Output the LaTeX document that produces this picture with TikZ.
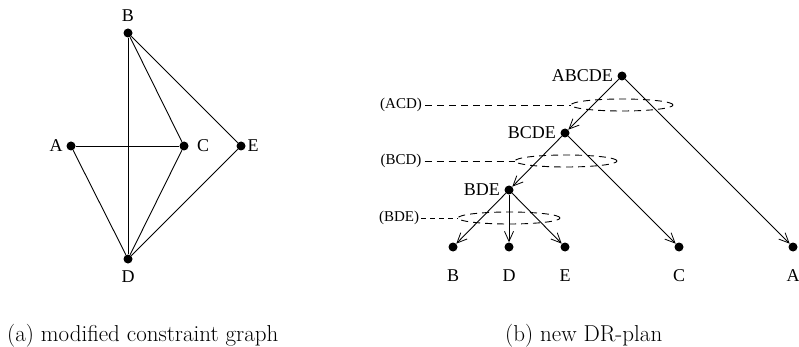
\documentclass[tikz,border=0pt]{standalone}
\usepackage{fontspec}
\newfontfamily\tms{Liberation Serif}
\usetikzlibrary{arrows.meta,shapes.geometric}
\begin{document}
\begin{tikzpicture}[x=1pt,y=-1pt,
  vert/.style={circle,fill=black,inner sep=0pt,minimum size=9pt},
  lbl/.style={inner sep=0pt,font=\fontsize{18}{20}\selectfont\tms},
  sublbl/.style={inner sep=0pt,font=\fontsize{15}{17}\selectfont\tms},
  captiontext/.style={inner sep=0pt,anchor=base west,font=\fontsize{23}{26}\selectfont},
  edge/.style={line width=0.9pt},
  plan/.style={line width=0.9pt,-{Straight Barb[length=10pt,width=9pt,line width=0.8pt]}},
  ring/.style={ellipse,draw,dashed,dash pattern=on 7pt off 5pt,line width=0.9pt,inner sep=0pt,minimum width=102pt,minimum height=12pt},
  lead/.style={dashed,dash pattern=on 7pt off 5pt,line width=0.9pt}]
\useasboundingbox (0,0) rectangle (799,347);

% (a) constraint graph
\node[vert] (gB) at (128,33) {};
\node[vert] (gA) at (71,146) {};
\node[vert] (gC) at (184,146) {};
\node[vert] (gE) at (241,146) {};
\node[vert] (gD) at (128,259) {};
\node[lbl] (tB) at (128,16) {B};
\node[lbl] (tA) at (56,146) {A};
\node[lbl] (tC) at (203,146) {C};
\node[lbl] (tE) at (253,146) {E};
\node[lbl] (tD) at (128,277) {D};
\draw[edge] (gB) -- (gD);
\draw[edge] (gB) -- (gC);
\draw[edge] (gB) -- (gE);
\draw[edge] (gA) -- (gC);
\draw[edge] (gA) -- (gD);
\draw[edge] (gC) -- (gD);
\draw[edge] (gE) -- (gD);

% (b) DR-plan
\node[vert] (pABCDE) at (622,76) {};
\node[vert] (pBCDE) at (565,133) {};
\node[vert] (pBDE) at (509,190) {};
\node[vert] (lB) at (453,247) {};
\node[vert] (lD) at (509,247) {};
\node[vert] (lE) at (565,247) {};
\node[vert] (lC) at (679,247) {};
\node[vert] (lA) at (793,247) {};
\node[lbl,anchor=east] (nABCDE) at (613,76) {ABCDE};
\node[lbl,anchor=east] (nBCDE) at (556,133) {BCDE};
\node[lbl,anchor=east] (nBDE) at (500,190) {BDE};
\node[lbl] (nB) at (453,276) {B};
\node[lbl] (nD) at (509,276) {D};
\node[lbl] (nE) at (565,276) {E};
\node[lbl] (nC) at (679,276) {C};
\node[lbl] (nA) at (793,276) {A};

\draw[plan] (pABCDE) -- (pBCDE);
\draw[plan] (pABCDE) -- (lA);
\draw[plan] (pBCDE) -- (pBDE);
\draw[plan] (pBCDE) -- (lC);
\draw[plan] (pBDE) -- (lB);
\draw[plan] (pBDE) -- (lD);
\draw[plan] (pBDE) -- (lE);

% dashed rings with their labels
\node[ring] (rACD) at (622,105) {};
\node[ring] (rBCD) at (566,161) {};
\node[ring] (rBDE) at (509,218) {};
\node[sublbl] (sACD) at (401,105) {(ACD)};
\node[sublbl] (sBCD) at (401,161) {(BCD)};
\node[sublbl] (sBDE) at (399,218) {(BDE)};
\draw[lead] ([xshift=3pt]sACD.east) -- (rACD.west);
\draw[lead] ([xshift=3pt]sBCD.east) -- (rBCD.west);
\draw[lead,dash pattern=on 5pt off 4pt] ([xshift=2pt]sBDE.east) -- (rBDE.west);

% captions
\node[captiontext] (capA) at (7,341) {(a) modified constraint graph};
\node[captiontext] (capB) at (505,341) {(b) new DR-plan};
\end{tikzpicture}
\end{document}
